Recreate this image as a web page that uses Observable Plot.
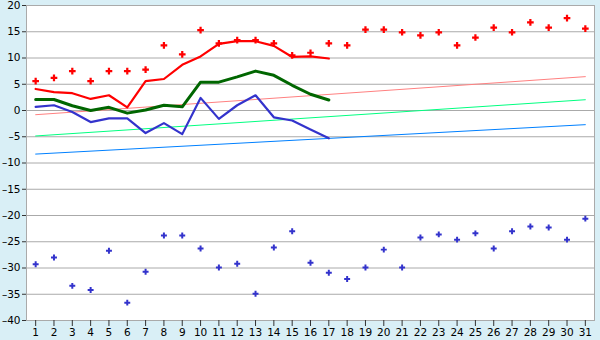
<!DOCTYPE html>
<html>
<head>
<meta charset="utf-8">
<script src="https://cdn.jsdelivr.net/npm/d3@7"></script>
<script src="https://cdn.jsdelivr.net/npm/@observablehq/plot@0.6"></script>
<style>
  html, body { margin: 0; padding: 0; background: #d9eff6; }
  svg { display: block; }
</style>
</head>
<body>
<div id="chart"></div>
<script>
const days = d3.range(1, 32);
const yTicks = [-40, -35, -30, -25, -20, -15, -10, -5, 0, 5, 10, 15, 20];

const recordHigh = [5.6, 6.2, 7.5, 5.6, 7.5, 7.5, 7.8, 12.4, 10.7, 15.3, 12.8, 13.4, 13.4, 12.8, 10.5, 11.0,
  12.8, 12.4, 15.4, 15.4, 14.9, 14.3, 14.9, 12.4, 13.9, 15.8, 14.9, 16.8, 15.8, 17.6, 15.6];
const recordLow = [-29.3, -28.0, -33.4, -34.2, -26.7, -36.6, -30.7, -23.8, -23.8, -26.3, -29.9, -29.2, -34.9, -26.1, -23.0, -29.0,
  -30.9, -32.1, -29.9, -26.5, -29.9, -24.2, -23.6, -24.6, -23.4, -26.3, -23.0, -22.1, -22.3, -24.6, -20.6];
const maxTemp = [4.1, 3.5, 3.3, 2.2, 2.9, 0.6, 5.6, 6.0, 8.7, 10.3, 12.7, 13.2, 13.2, 12.3, 10.2, 10.3, 9.9];
const avgTemp = [2.1, 2.1, 0.9, 0.0, 0.6, -0.5, 0.1, 1.0, 0.7, 5.4, 5.4, 6.4, 7.5, 6.7, 4.8, 3.1, 2.0];
const minTemp = [0.7, 1.0, -0.3, -2.2, -1.5, -1.5, -4.3, -2.4, -4.5, 2.4, -1.6, 1.0, 2.9, -1.3, -1.9, -3.6, -5.3];
const trendDays = [1, 31];
const trendHigh = [-0.8, 6.45];
const trendAvg = [-4.85, 2.05];
const trendLow = [-8.3, -2.7];

const pts = (vals, xs = days) => vals.map((v, i) => ({x: xs[i], y: v}));

const chart = Plot.plot({
  width: 600,
  height: 340,
  marginLeft: 26,
  marginRight: 6,
  marginTop: 5,
  marginBottom: 20,
  style: {background: "#d9eff6", fontFamily: "DejaVu Sans", fontSize: "10px", color: "black"},
  x: {type: "point", domain: days, padding: 0.5, round: false, label: null},
  y: {domain: [-40, 20], label: null},
  marks: [
    Plot.frame({fill: "white", stroke: "#aaaaaa"}),
    Plot.ruleY(yTicks.slice(1, -1), {stroke: "#aaaaaa", strokeWidth: 1}),
    Plot.axisX({ticks: days, tickSize: 6, tickPadding: 2, stroke: "#333", fontSize: 10.5}),
    Plot.axisY({ticks: yTicks, tickSize: 4, tickPadding: 2, stroke: "#333", fontSize: 10.5,
      tickFormat: d => (d < 0 ? "\u2013" + Math.abs(d) : String(d))}),
    Plot.line(pts(trendHigh, trendDays), {x: "x", y: "y", stroke: "#ff8080", strokeWidth: 1}),
    Plot.line(pts(trendAvg, trendDays), {x: "x", y: "y", stroke: "#00ff80", strokeWidth: 1}),
    Plot.line(pts(trendLow, trendDays), {x: "x", y: "y", stroke: "#0080ff", strokeWidth: 1}),
    Plot.line(pts(maxTemp), {x: "x", y: "y", stroke: "#ff0000", strokeWidth: 2.2}),
    Plot.line(pts(avgTemp), {x: "x", y: "y", stroke: "#006600", strokeWidth: 3}),
    Plot.line(pts(minTemp), {x: "x", y: "y", stroke: "#3333cc", strokeWidth: 2.2}),
    Plot.dot(pts(recordHigh), {x: "x", y: "y", symbol: "cross", r: 2.8, fill: "#ff0000", stroke: null}),
    Plot.dot(pts(recordLow), {x: "x", y: "y", symbol: "cross", r: 2.5, fill: "#3333cc", stroke: null})
  ]
});
document.getElementById("chart").appendChild(chart);
</script>
</body>
</html>
